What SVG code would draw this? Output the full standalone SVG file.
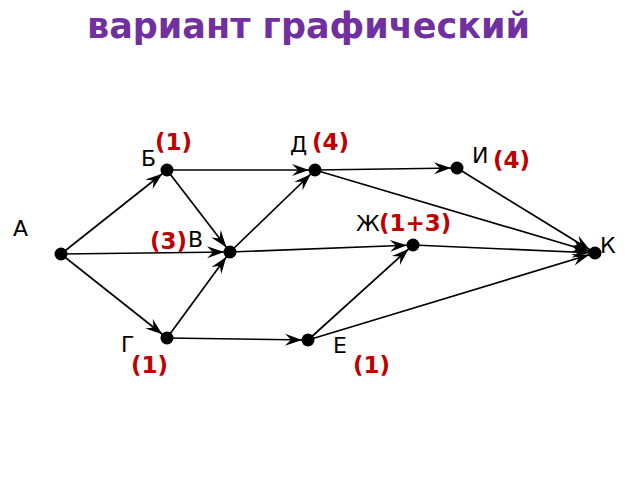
<svg xmlns="http://www.w3.org/2000/svg" width="640" height="480" viewBox="0 0 640 480">
<style>
.title{font-family:"DejaVu Sans",sans-serif;font-weight:bold;font-size:35px;fill:#7030A0}
.lbl{font-family:"DejaVu Sans",sans-serif;font-size:22px;fill:#000}
.red{font-family:"DejaVu Sans",sans-serif;font-weight:bold;font-size:23px;fill:#C00000}
.edge{stroke:#000;stroke-width:1.7;fill:none;marker-end:url(#arr)}
.dot{fill:#000}
</style>
<defs>
<marker id="arr" markerUnits="userSpaceOnUse" viewBox="0 0 18 12" markerWidth="18" markerHeight="12" refX="23" refY="6" orient="auto" overflow="visible">
<path d="M0,0 L17,6 L0,12 L6,6 z" fill="#000"/>
</marker>
</defs>
<rect width="640" height="480" fill="#fff"/>
<text class="title" x="87" y="38">вариант графический</text>
<g id="connectors">
<line class="edge" x1="61" y1="254" x2="167" y2="170"/>
<line class="edge" x1="61" y1="254" x2="230" y2="252"/>
<line class="edge" x1="61" y1="254" x2="167" y2="338"/>
<line class="edge" x1="167" y1="170" x2="315" y2="170"/>
<line class="edge" x1="167" y1="170" x2="230" y2="252"/>
<line class="edge" x1="167" y1="338" x2="230" y2="252"/>
<line class="edge" x1="167" y1="338" x2="308" y2="340"/>
<line class="edge" x1="230" y1="252" x2="315" y2="170"/>
<line class="edge" x1="230" y1="252" x2="413" y2="245"/>
<line class="edge" x1="315" y1="170" x2="457" y2="168"/>
<line class="edge" x1="315" y1="170" x2="595" y2="253"/>
<line class="edge" x1="457" y1="168" x2="595" y2="253"/>
<line class="edge" x1="413" y1="245" x2="595" y2="253"/>
<line class="edge" x1="308" y1="340" x2="413" y2="245"/>
<line class="edge" x1="308" y1="340" x2="595" y2="253"/>
</g>
<g id="node-A"><circle class="dot" cx="61" cy="254" r="6.5"/><text class="lbl" x="13" y="236">А</text></g>
<g id="node-B"><circle class="dot" cx="167" cy="170" r="6.5"/><text class="lbl" x="141" y="166">Б</text><text class="red" x="155" y="150">(1)</text></g>
<g id="node-V"><circle class="dot" cx="230" cy="252" r="6.5"/><text class="lbl" x="188" y="247">В</text><text class="red" x="150" y="249">(3)</text></g>
<g id="node-G"><circle class="dot" cx="167" cy="338" r="6.5"/><text class="lbl" x="121" y="352">Г</text><text class="red" x="131" y="373">(1)</text></g>
<g id="node-D"><circle class="dot" cx="315" cy="170" r="6.5"/><text class="lbl" x="290" y="152">Д</text><text class="red" x="312" y="150">(4)</text></g>
<g id="node-E"><circle class="dot" cx="308" cy="340" r="6.5"/><text class="lbl" x="333" y="353">Е</text><text class="red" x="353" y="373">(1)</text></g>
<g id="node-Zh"><circle class="dot" cx="413" cy="245" r="6.5"/><text class="lbl" x="356" y="231">Ж</text><text class="red" x="379" y="231">(1+3)</text></g>
<g id="node-I"><circle class="dot" cx="457" cy="168" r="6.5"/><text class="lbl" x="472" y="163">И</text><text class="red" x="493" y="168">(4)</text></g>
<g id="node-K"><circle class="dot" cx="595" cy="253" r="6.5"/><text class="lbl" x="600" y="253">К</text></g>
</svg>
